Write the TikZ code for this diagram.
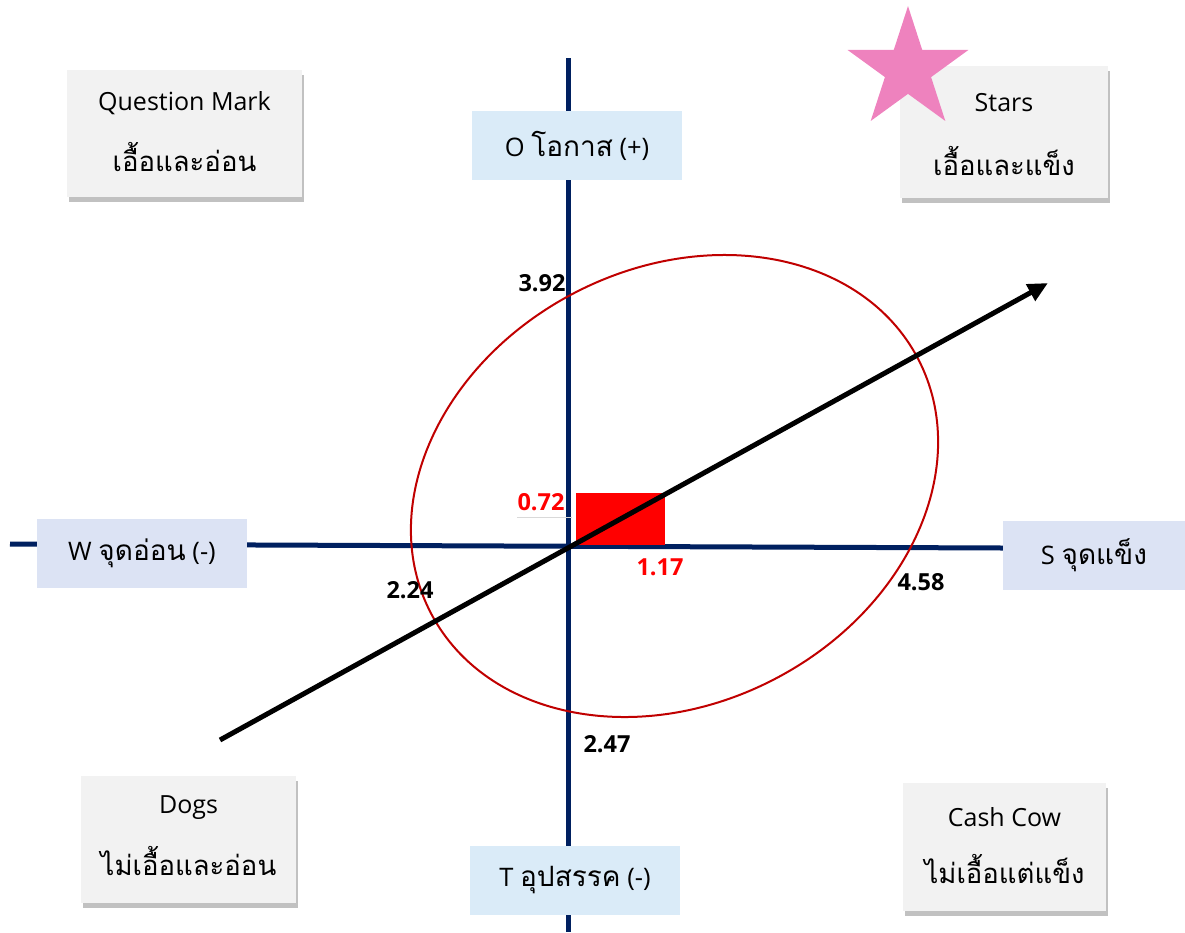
\documentclass[tikz,border=0pt]{standalone}
\usepackage{fontspec}
\setmainfont{Open Sans}
\newfontfamily\thaifont[Script=Thai]{Loma}
\usepackage{xcolor}
\definecolor{axisblue}{RGB}{0,32,96}
\definecolor{boxgray}{RGB}{242,242,242}
\definecolor{oblue}{RGB}{218,235,248}
\definecolor{wblue}{RGB}{220,227,244}
\definecolor{starpink}{RGB}{238,130,190}
\definecolor{ellred}{RGB}{192,0,0}
\usepackage{tikz}
\usetikzlibrary{arrows.meta,shapes.geometric,positioning,calc,shadows}

\newcommand{\thtxt}[1]{{\thaifont\fontsize{28}{30}\selectfont #1}}

\tikzset{
  quad/.style={fill=boxgray, inner sep=0pt, align=center,
    drop shadow={shadow xshift=2pt, shadow yshift=-5pt, opacity=0.35, fill=black!70}},
  axlabel/.style={inner sep=0pt, minimum width=210pt, minimum height=69pt,
    font=\fontsize{25.5}{28}\selectfont},
  val/.style={font=\fontsize{23.5}{26}\selectfont\bfseries},
  toptext/.style={font=\fontsize{25}{26}\selectfont},
  thaitext/.style={font=\fontsize{27.5}{32}\selectfont\thaifont}
}

\begin{document}
\begin{tikzpicture}[x=1pt,y=-1pt]
  \useasboundingbox (0,0) rectangle (1185,932);

  % axes
  \coordinate (otop) at (568,58);
  \coordinate (obot) at (568,932);
  \coordinate (wleft) at (10,544);
  \coordinate (sright) at (1003,548);
  \draw[axisblue,line width=5pt] (otop) -- (obot);
  \draw[axisblue,line width=5pt] (wleft) -- (sright);

  % position square
  \fill[red] (576,493) rectangle (665,545);
  \draw[black!15,line width=1pt] (517,517) -- (572,517);

  % range ellipse
  \draw[ellred,line width=2pt,rotate around={27.6:(674.5,486)}]
    (674.5,486) ellipse [x radius=274.8, y radius=217.5];

  % strategy arrow
  \coordinate (tail) at (220,740);
  \coordinate (head) at (1048,283);
  \draw[line width=5pt,-{Triangle[length=20pt,width=18pt]}] (tail) -- (head);

  % quadrant boxes
  \node[quad,minimum width=235pt,minimum height=127pt] (qm) at (184.5,133.5) {};
  \node[toptext] at (184.5,103) {Question Mark};
  \node[thaitext] at (184.5,157) {เอื้อและอ่อน};

  \node[quad,minimum width=208pt,minimum height=132pt] (stars) at (1004,132) {};
  \node[toptext] at (1004,103) {Stars};
  \node[thaitext] at (1004,161) {เอื้อและแข็ง};
  \node[star,star points=5,star point ratio=2.618,fill=starpink,
    inner sep=0pt,minimum size=127pt] (starmark) at (908,69.6) {};

  \node[quad,minimum width=215pt,minimum height=127pt] (dogs) at (188.5,839.5) {};
  \node[toptext] at (188.5,808) {Dogs};
  \node[thaitext] at (188.5,861) {ไม่เอื้อและอ่อน};

  \node[quad,minimum width=203pt,minimum height=128pt] (cow) at (1004.5,847) {};
  \node[toptext] at (1004.5,817) {Cash Cow};
  \node[thaitext] at (1004.5,869) {ไม่เอื้อแต่แข็ง};

  % axis labels
  \node[axlabel,fill=oblue] (opp) at (577,145.5) {O \thtxt{โอกาส} (+)};
  \node[axlabel,fill=oblue] (thr) at (575,880.5) {T \thtxt{อุปสรรค} (-)};
  \node[axlabel,fill=wblue] (weak) at (142,553.5) {W \thtxt{จุดอ่อน} (-)};
  \node[axlabel,fill=wblue,minimum width=182pt] (str) at (1094,555.5) {S \thtxt{จุดแข็ง}};

  % values
  \node[val] (vo) at (542,283) {3.92};
  \node[val] (vw) at (410,590) {2.24};
  \node[val] (vs) at (921,582) {4.58};
  \node[val] (vt) at (607,744) {2.47};
  \node[val,red] (vy) at (541,502) {0.72};
  \node[val,red] (vx) at (660,567) {1.17};
\end{tikzpicture}
\end{document}
